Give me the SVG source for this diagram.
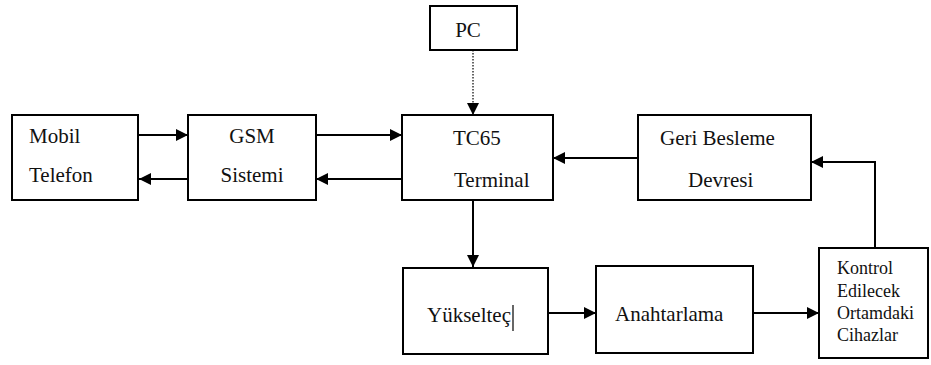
<svg xmlns="http://www.w3.org/2000/svg" width="931" height="365" viewBox="0 0 931 365">
<style>
.box{fill:#fff;stroke:#000;stroke-width:2}
.t{font-family:'Liberation Serif','DejaVu Serif',serif;font-size:21px;fill:#111}
.s{font-family:'Liberation Serif','DejaVu Serif',serif;font-size:18px;fill:#111}
.c{text-anchor:middle}
.ln{fill:none;stroke:#000;stroke-width:2;marker-end:url(#ah)}
.dot{fill:none;stroke:#333;stroke-width:1.5;stroke-dasharray:1.5 1.5;marker-end:url(#ah)}
</style>
<defs>
<marker id="ah" viewBox="0 0 10 10" refX="10" refY="5" markerWidth="12" markerHeight="12" markerUnits="userSpaceOnUse" orient="auto">
<path d="M0,0 L10,5 L0,10 z" fill="#000"/>
</marker>
</defs>
<rect width="931" height="365" fill="#fff"/>
<g id="connectors">
<line class="ln" x1="139" y1="135" x2="188" y2="135"/>
<line class="ln" x1="188" y1="179" x2="139" y2="179"/>
<line class="ln" x1="316" y1="135" x2="402" y2="135"/>
<line class="ln" x1="402" y1="179" x2="316" y2="179"/>
<line class="ln" x1="638" y1="158" x2="553" y2="158"/>
<polyline class="ln" points="875,248 875,162 811,162"/>
<line class="ln" x1="473" y1="200" x2="473" y2="267"/>
<line class="ln" x1="548" y1="313" x2="596" y2="313"/>
<line class="ln" x1="753" y1="313" x2="819" y2="313"/>
<line class="dot" x1="473" y1="50" x2="473" y2="115"/>
</g>
<g id="mobil">
<rect class="box" x="12" y="115" width="126" height="85"/>
<text class="t" x="29" y="143" font-family="Liberation Serif">Mobil</text>
<text class="t" x="29" y="182" font-family="Liberation Serif">Telefon</text>
</g>
<g id="gsm">
<rect class="box" x="188" y="115" width="128" height="85"/>
<text class="t c" x="252" y="143">GSM</text>
<text class="t c" x="252" y="182">Sistemi</text>
</g>
<g id="pc">
<rect class="box" x="430" y="6" width="87" height="44"/>
<text class="t c" x="468" y="37">PC</text>
</g>
<g id="tc65">
<rect class="box" x="402" y="115" width="151" height="85"/>
<text class="t" x="453" y="145">TC65</text>
<text class="t" x="454" y="187">Terminal</text>
</g>
<g id="geri">
<rect class="box" x="638" y="115" width="173" height="85"/>
<text class="t" x="660" y="145">Geri Besleme</text>
<text class="t" x="688" y="187">Devresi</text>
</g>
<g id="yukseltec">
<rect class="box" x="403" y="268" width="145" height="86"/>
<text class="t" x="427" y="322">Yükselteç</text>
<line x1="513" y1="305" x2="513" y2="331" stroke="#000" stroke-width="1.2"/>
</g>
<g id="anahtarlama">
<rect class="box" x="596" y="266" width="157" height="87"/>
<text class="t" x="615" y="321">Anahtarlama</text>
</g>
<g id="kontrol">
<rect class="box" x="819" y="248" width="109" height="110"/>
<text class="s" x="837" y="274">Kontrol</text>
<text class="s" x="837" y="297">Edilecek</text>
<text class="s" x="837" y="319">Ortamdaki</text>
<text class="s" x="837" y="341">Cihazlar</text>
</g>
</svg>
